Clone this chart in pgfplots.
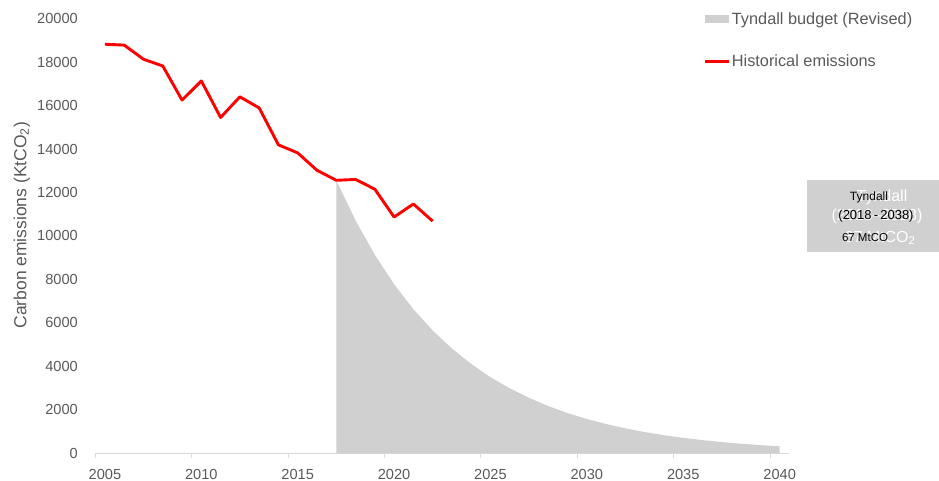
\documentclass[border=0pt]{standalone}
\usepackage{pgfplots}
\usepackage{pgfplotstable}
\pgfplotsset{compat=1.18}
\usepackage{fontspec}
\setmainfont{Liberation Sans}

\definecolor{budgetgray}{RGB}{208,208,208}
\definecolor{labelgray}{RGB}{89,89,89}
\definecolor{axisgray}{RGB}{217,217,217}

% Historical emissions, plotted at mid-year
\pgfplotstableread{
year   emissions
2005.5 18820
2006.5 18780
2007.5 18130
2008.5 17820
2009.5 16250
2010.5 17130
2011.5 15450
2012.5 16400
2013.5 15890
2014.5 14190
2015.5 13820
2016.5 13020
2017.5 12560
2018.5 12600
2019.5 12150
2020.5 10870
2021.5 11470
2022.5 10680
}\historical

% Tyndall carbon budget pathway (revised)
\pgfplotstableread{
year   budget
2017.5 12560
2018.5 10710
2019.5 9130
2020.5 7780
2021.5 6630
2022.5 5650
2023.5 4820
2024.5 4110
2025.5 3500
2026.5 2990
2027.5 2550
2028.5 2170
2029.5 1850
2030.5 1580
2031.5 1345
2032.5 1147
2033.5 977
2034.5 833
2035.5 710
2036.5 605
2037.5 516
2038.5 440
2039.5 375
2040.5 320
}\tyndall

\begin{document}
\begin{tikzpicture}[x=1bp,y=1bp]
\useasboundingbox (0,0) rectangle (939,481);
\begin{axis}[
  at={(95.3bp,27.7bp)}, anchor=south west,
  scale only axis, width=694bp, height=434.7bp,
  xmin=2005, xmax=2041, ymin=0, ymax=20000,
  axis x line*=bottom, axis y line*=left,
  x axis line style={draw=axisgray, line width=0.9bp, -},
  y axis line style={draw=none},
  xtick={2005,2010,...,2040},
  ytick={0,2000,...,20000},
  scaled ticks=false,
  tick align=outside, major tick length=5bp,
  x tick style={draw=axisgray, line width=0.9bp},
  y tick style={draw=none},
  ticklabel style={font=\fontsize{14.6bp}{17bp}\selectfont, text=labelgray},
  xticklabel style={xshift=9.6bp, yshift=-7bp},
  yticklabel style={xshift=-9bp},
  /pgf/number format/1000 sep={},
  /pgf/number format/assume math mode=true,
  ylabel={Carbon emissions (KtCO\textsubscript{2})},
  ylabel style={font=\fontsize{17.5bp}{20bp}\selectfont, text=labelgray,
    at={(axis description cs:-0.106,0.5245)}, anchor=center},
  legend style={draw=none, fill=none, at={(axis description cs:0.8725,1.021)},
    anchor=north west, font=\fontsize{16.3bp}{19bp}\selectfont, text=labelgray,
    row sep=27bp, nodes={inner sep=1bp}},
  legend cell align=left,
]
\addplot[fill=budgetgray, draw=none,
  legend image code/.code={\fill[budgetgray] (0bp,-4bp) rectangle (24bp,4bp);}]
  table[x=year, y=budget] {\tyndall} \closedcycle;
\addlegendentry{Tyndall budget (Revised)}
\addplot[red, line width=2.9bp, line join=round,
  legend image code/.code={\draw[red, line width=2.9bp] (0bp,0bp) -- (24bp,0bp);}]
  table[x=year, y=emissions] {\historical};
\addlegendentry{Historical emissions}
\end{axis}
% annotation box
\fill[budgetgray] (807,229) rectangle (939,301);
\begin{scope}[font=\fontsize{16bp}{19bp}\selectfont, text=white]
  \node at (882,284) {Tyndall};
  \node at (877,265) {(2018--2038)};
  \node at (880,243) {67 MtCO\textsubscript{2}};
\end{scope}
\begin{scope}[text=black]
  \node[font=\fontsize{12bp}{14bp}\selectfont] at (869,284) {Tyndall};
  \node[font=\fontsize{13bp}{15bp}\selectfont] at (876,265) {(2018\,-\,2038)};
  \node[font=\fontsize{11.5bp}{14bp}\selectfont] at (865,243) {67 MtCO};
\end{scope}
\end{tikzpicture}
\end{document}
